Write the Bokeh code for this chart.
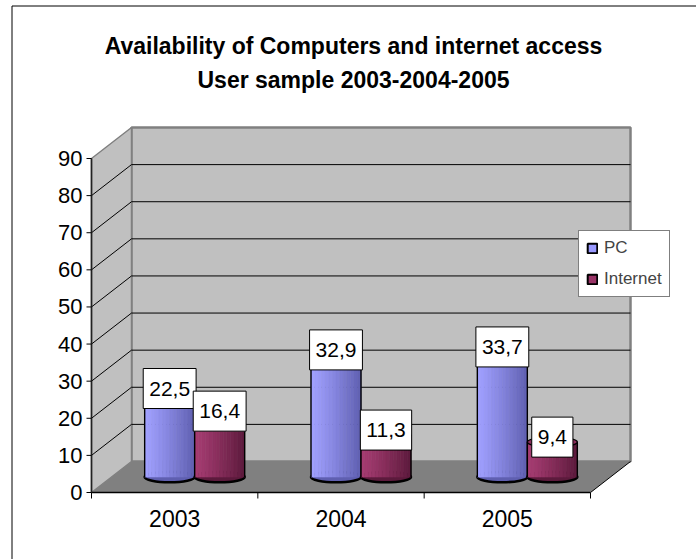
from bokeh.plotting import figure
from bokeh.models import Range1d, Legend, LegendItem
from bokeh.core.properties import value
from bokeh.embed import file_html
from bokeh.resources import INLINE

# ---------------- data ----------------
title_lines = ["Availability of Computers and internet access",
               "User sample 2003-2004-2005"]
categories = ["2003", "2004", "2005"]
series_names = ["PC", "Internet"]
pc_values = [22.5, 32.9, 33.7]
internet_values = [16.4, 11.3, 9.4]
y_ticks = [0, 10, 20, 30, 40, 50, 60, 70, 80, 90]
y_max = 90


def fmt(v):
    return f"{v:.1f}".replace(".", ",")


# ---------------- geometry (pixel layout -> data units) ----------------
W, H = 696, 559
AX_L, AX_R, AX_B, AX_T = 91, 590, 492, 158
n = len(categories)
S = (AX_R - AX_L) / n      # px per category
T = (AX_B - AX_T) / y_max  # px per value unit


def dx(px):
    return px / S


def dy(px):
    return px / T


def X(px):
    return (px - AX_L) / S


def Y(py):
    return (AX_B - py) / T


FONT = value("Liberation Sans")

p = figure(width=W, height=H,
           x_range=Range1d(X(0), X(W)), y_range=Range1d(Y(H), Y(0)),
           x_axis_type=None, y_axis_type=None,
           toolbar_location=None, output_backend="svg",
           min_border=0, outline_line_color=None,
           background_fill_color="white", border_fill_color="white")
p.grid.visible = False

DX, DY = dx(40), dy(31)

# outer chart-area border (left and top visible)
p.line(x=[X(11.5), X(11.5), X(W + 5)], y=[Y(H + 5), Y(5.5), Y(5.5)],
       line_color="black", line_width=1)

# back wall
p.quad(left=[DX], right=[n + DX], bottom=[DY], top=[y_max + DY],
       fill_color="#c0c0c0", line_color="#808080", line_width=2.5)
# side wall
p.patch([0, DX, DX, 0], [0, DY, y_max + DY, y_max],
        fill_color="#c0c0c0", line_color="#808080", line_width=1.5)
# floor
p.patch([0, n, n + DX, DX], [0, 0, DY, DY],
        fill_color="#808080", line_color=None)

inner = y_ticks[1:-1]
# gridlines on back wall
p.segment(x0=[DX] * len(inner), x1=[n + DX] * len(inner),
          y0=[t + DY for t in inner], y1=[t + DY for t in inner],
          line_color="black", line_width=1)
# gridlines on side wall
p.segment(x0=[0] * len(inner), x1=[DX] * len(inner),
          y0=inner, y1=[t + DY for t in inner],
          line_color="black", line_width=1)

# floor edges
p.segment(x0=[0, n], y0=[0, 0], x1=[n, n + DX], y1=[0, DY],
          line_color="black", line_width=[1.6, 1])
# value axis
p.segment(x0=[0], y0=[0], x1=[0], y1=[y_max], line_color="#222222", line_width=1.6)
p.segment(x0=[-dx(5)] * len(y_ticks), x1=[0] * len(y_ticks),
          y0=y_ticks, y1=y_ticks, line_color="black", line_width=1)
# category ticks
cat_edges = list(range(n + 1))
p.segment(x0=cat_edges, x1=cat_edges, y0=[0] * (n + 1), y1=[-dy(6)] * (n + 1),
          line_color="black", line_width=1)

# tick labels
p.text(x=[-dx(9)] * len(y_ticks), y=y_ticks, text=[str(t) for t in y_ticks],
       text_align="right", text_baseline="middle",
       text_font=FONT, text_font_size="22px", text_color="black")
p.text(x=[i + 0.5 for i in range(n)], y=[-dy(26)] * n, text=categories,
       text_align="center", text_baseline="middle",
       text_font=FONT, text_font_size="23px", text_color="black")

# ---------------- cylinders ----------------
CW = dx(50)
EH = dy(10.5)
BASE = DY / 2
NSTRIP = 14


def hex2rgb(h):
    h = h.lstrip("#")
    return tuple(int(h[i:i + 2], 16) for i in (0, 2, 4))


def rgb2hex(c):
    return "#%02x%02x%02x" % tuple(int(round(v)) for v in c)


def blend(a, b, t):
    a, b = hex2rgb(a), hex2rgb(b)
    return rgb2hex([a[i] + (b[i] - a[i]) * t for i in range(3)])


def cylinder(values, offset, light, dark, mid):
    cx = [i + 0.5 + DX / 2 + offset for i in range(n)]
    tops = [BASE + v for v in values]
    # bottom ellipse (thick outline)
    p.ellipse(x=cx, y=[BASE] * n, width=CW, height=EH,
              fill_color=dark, line_color="black", line_width=2.6)
    # body with gradient strips
    sw = CW / NSTRIP
    for k in range(NSTRIP):
        t = (k + 0.5) / NSTRIP
        col = blend(light, dark, t ** 1.2)
        p.vbar(x=[c - CW / 2 + (k + 0.5) * sw for c in cx], width=sw,
               bottom=[BASE] * n, top=tops,
               fill_color=col, line_color=col, line_width=0.6)
    # side edges
    p.segment(x0=[c - CW / 2 for c in cx], x1=[c - CW / 2 for c in cx],
              y0=[BASE] * n, y1=tops, line_color="black", line_width=1.4)
    p.segment(x0=[c + CW / 2 for c in cx], x1=[c + CW / 2 for c in cx],
              y0=[BASE] * n, y1=tops, line_color="black", line_width=1.4)
    # top ellipse
    p.ellipse(x=cx, y=tops, width=CW, height=EH,
              fill_color=mid, line_color="black", line_width=1.4)
    return cx, tops


pc_x, pc_top = cylinder(pc_values, -CW / 2, "#a0a0ff", "#5f5fb0", "#8a8ae8")
in_x, in_top = cylinder(internet_values, CW / 2, "#a63c72", "#5c1a3c", "#8c2d5c")

# data labels
for xs, tops, vals in ((pc_x, pc_top, pc_values), (in_x, in_top, internet_values)):
    p.text(x=xs, y=[t + dy(5) for t in tops], text=[fmt(v) for v in vals],
           text_align="center", text_baseline="middle",
           text_font=FONT, text_font_size="21px", text_color="black",
           background_fill_color="white", border_line_color="black",
           border_line_width=1,
           padding=dict(left=6, right=6, top=13, bottom=13))

# title
for line, py in zip(title_lines, (45, 79)):
    p.text(x=[X(353)], y=[Y(py)], text=[line], text_align="center",
           text_baseline="alphabetic", text_font=FONT,
           text_font_size="23px", text_font_style="bold", text_color="black")

# legend proxies (one point each, placed outside the visible range)
off_x = [p.x_range.start - 10]
off_y = [p.y_range.start - 10]
r_pc = p.rect(x=off_x, y=off_y, width=1, height=1, fill_color="#9999ff",
              line_color="black", line_width=2)
r_in = p.rect(x=off_x, y=off_y, width=1, height=1, fill_color="#993366",
              line_color="black", line_width=2)
legend = Legend(items=[LegendItem(label=series_names[0], renderers=[r_pc]),
                       LegendItem(label=series_names[1], renderers=[r_in])],
                location=(578, H - 297), orientation="vertical",
                label_text_font="Liberation Sans", label_text_font_size="17px",
                glyph_width=12, glyph_height=12, label_standoff=6,
                padding=7, spacing=11, margin=0, label_height=20,
                border_line_color="black", border_line_width=1,
                background_fill_color="white", background_fill_alpha=1)
p.add_layout(legend)

open("out.html", "w").write(file_html(p, INLINE))
